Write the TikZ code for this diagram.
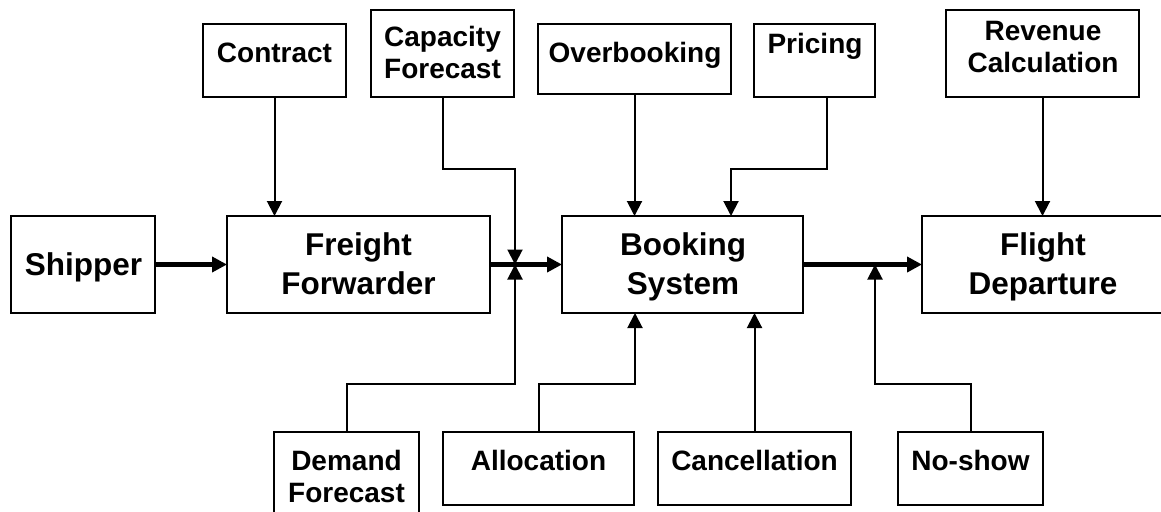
\documentclass[tikz,border=0pt]{standalone}
\usepackage{fontspec}
\setmainfont{Liberation Sans}
\usetikzlibrary{arrows.meta}
\tikzset{
  box/.style={draw, line width=2.5pt, inner sep=0pt, outer sep=0pt},
  bigtxt/.style={font=\fontsize{31.5}{39}\selectfont\bfseries, anchor=base, inner sep=0pt},
  smalltxt/.style={font=\fontsize{28}{32}\selectfont\bfseries, anchor=base, inner sep=0pt},
  thinarrow/.style={line width=2pt, -{Triangle[length=15pt,width=15pt]}},
  thickarrow/.style={line width=4.5pt, -{Triangle[length=15pt,width=15pt]}},
}
\newcommand{\twolines}[2]{\begin{tabular}[t]{@{}c@{}}#1\\#2\end{tabular}}
\begin{document}
\begin{tikzpicture}[x=1pt,y=-1pt]
\useasboundingbox (0,0) rectangle (1161,511);
% main boxes
\node[box, minimum width=144pt, minimum height=97pt] (shipper) at (83,264.5) {};
\node[box, minimum width=263pt, minimum height=97pt] (ff) at (358.5,264.5) {};
\node[box, minimum width=241pt, minimum height=97pt] (booking) at (682.5,264.5) {};
\node[box, minimum width=242pt, minimum height=97pt] (flight) at (1043,264.5) {};
% top boxes
\node[box, minimum width=143pt, minimum height=73pt] (contract) at (274.5,60.5) {};
\node[box, minimum width=143pt, minimum height=87pt] (capacity) at (442.5,53.5) {};
\node[box, minimum width=193pt, minimum height=70pt] (overbooking) at (634.5,59) {};
\node[box, minimum width=121pt, minimum height=73pt] (pricing) at (814.5,60.5) {};
\node[box, minimum width=193pt, minimum height=87pt] (revenue) at (1042.5,53.5) {};
% bottom boxes
\node[box, minimum width=145pt, minimum height=88pt] (demand) at (346.5,476) {};
\node[box, minimum width=191pt, minimum height=73pt] (allocation) at (538.5,468.5) {};
\node[box, minimum width=193pt, minimum height=73pt] (cancellation) at (754.5,468.5) {};
\node[box, minimum width=145pt, minimum height=73pt] (noshow) at (970.5,468.5) {};
% labels
\node[bigtxt] (tshipper) at (83.5,275) {Shipper};
\node[bigtxt] (tff) at (358.5,255) {\twolines{Freight}{Forwarder}};
\node[bigtxt] (tbooking) at (683,255) {\twolines{Booking}{System}};
\node[bigtxt] (tflight) at (1043,255) {\twolines{Flight}{Departure}};
\node[smalltxt] (tcontract) at (274.5,63) {Contract};
\node[smalltxt] (tcapacity) at (442.5,47) {\twolines{Capacity}{Forecast}};
\node[smalltxt] (toverbooking) at (635,63) {Overbooking};
\node[smalltxt] (tpricing) at (815,53) {Pricing};
\node[smalltxt] (trevenue) at (1043,41) {\twolines{Revenue}{Calculation}};
\node[smalltxt] (tdemand) at (346.5,470) {\twolines{Demand}{Forecast}};
\node[smalltxt] (tallocation) at (538.5,470) {Allocation};
\node[smalltxt] (tcancellation) at (754.5,470) {Cancellation};
\node[smalltxt] (tnoshow) at (970.5,470) {No-show};
% junctions on the main line
\coordinate (j1) at (515,264.5);
\coordinate (j2) at (875,264.5);
% main flow
\draw[thickarrow] (shipper) -- (ff);
\draw[thickarrow] (ff) -- (booking);
\draw[thickarrow] (booking) -- (flight);
% top inputs
\draw[thinarrow] (contract.south) -- (contract.south |- ff.north);
\draw[thinarrow] ([xshift=0.5pt]capacity.south) -- ++(0,72) -| (j1);
\draw[thinarrow] (overbooking.south) -- (overbooking.south |- booking.north);
\draw[thinarrow] ([xshift=12.5pt]pricing.south) -- ++(0,72) -| ([xshift=48.5pt]booking.north);
\draw[thinarrow] (revenue.south) -- (revenue.south |- flight.north);
% bottom inputs
\draw[thinarrow] (demand.north) -- ++(0,-48) -| (j1);
\draw[thinarrow] (allocation.north) -- ++(0,-48) -| ([xshift=-47.5pt]booking.south);
\draw[thinarrow] (cancellation.north) -- (cancellation.north |- booking.south);
\draw[thinarrow] (noshow.north) -- ++(0,-48) -| (j2);
\end{tikzpicture}
\end{document}
